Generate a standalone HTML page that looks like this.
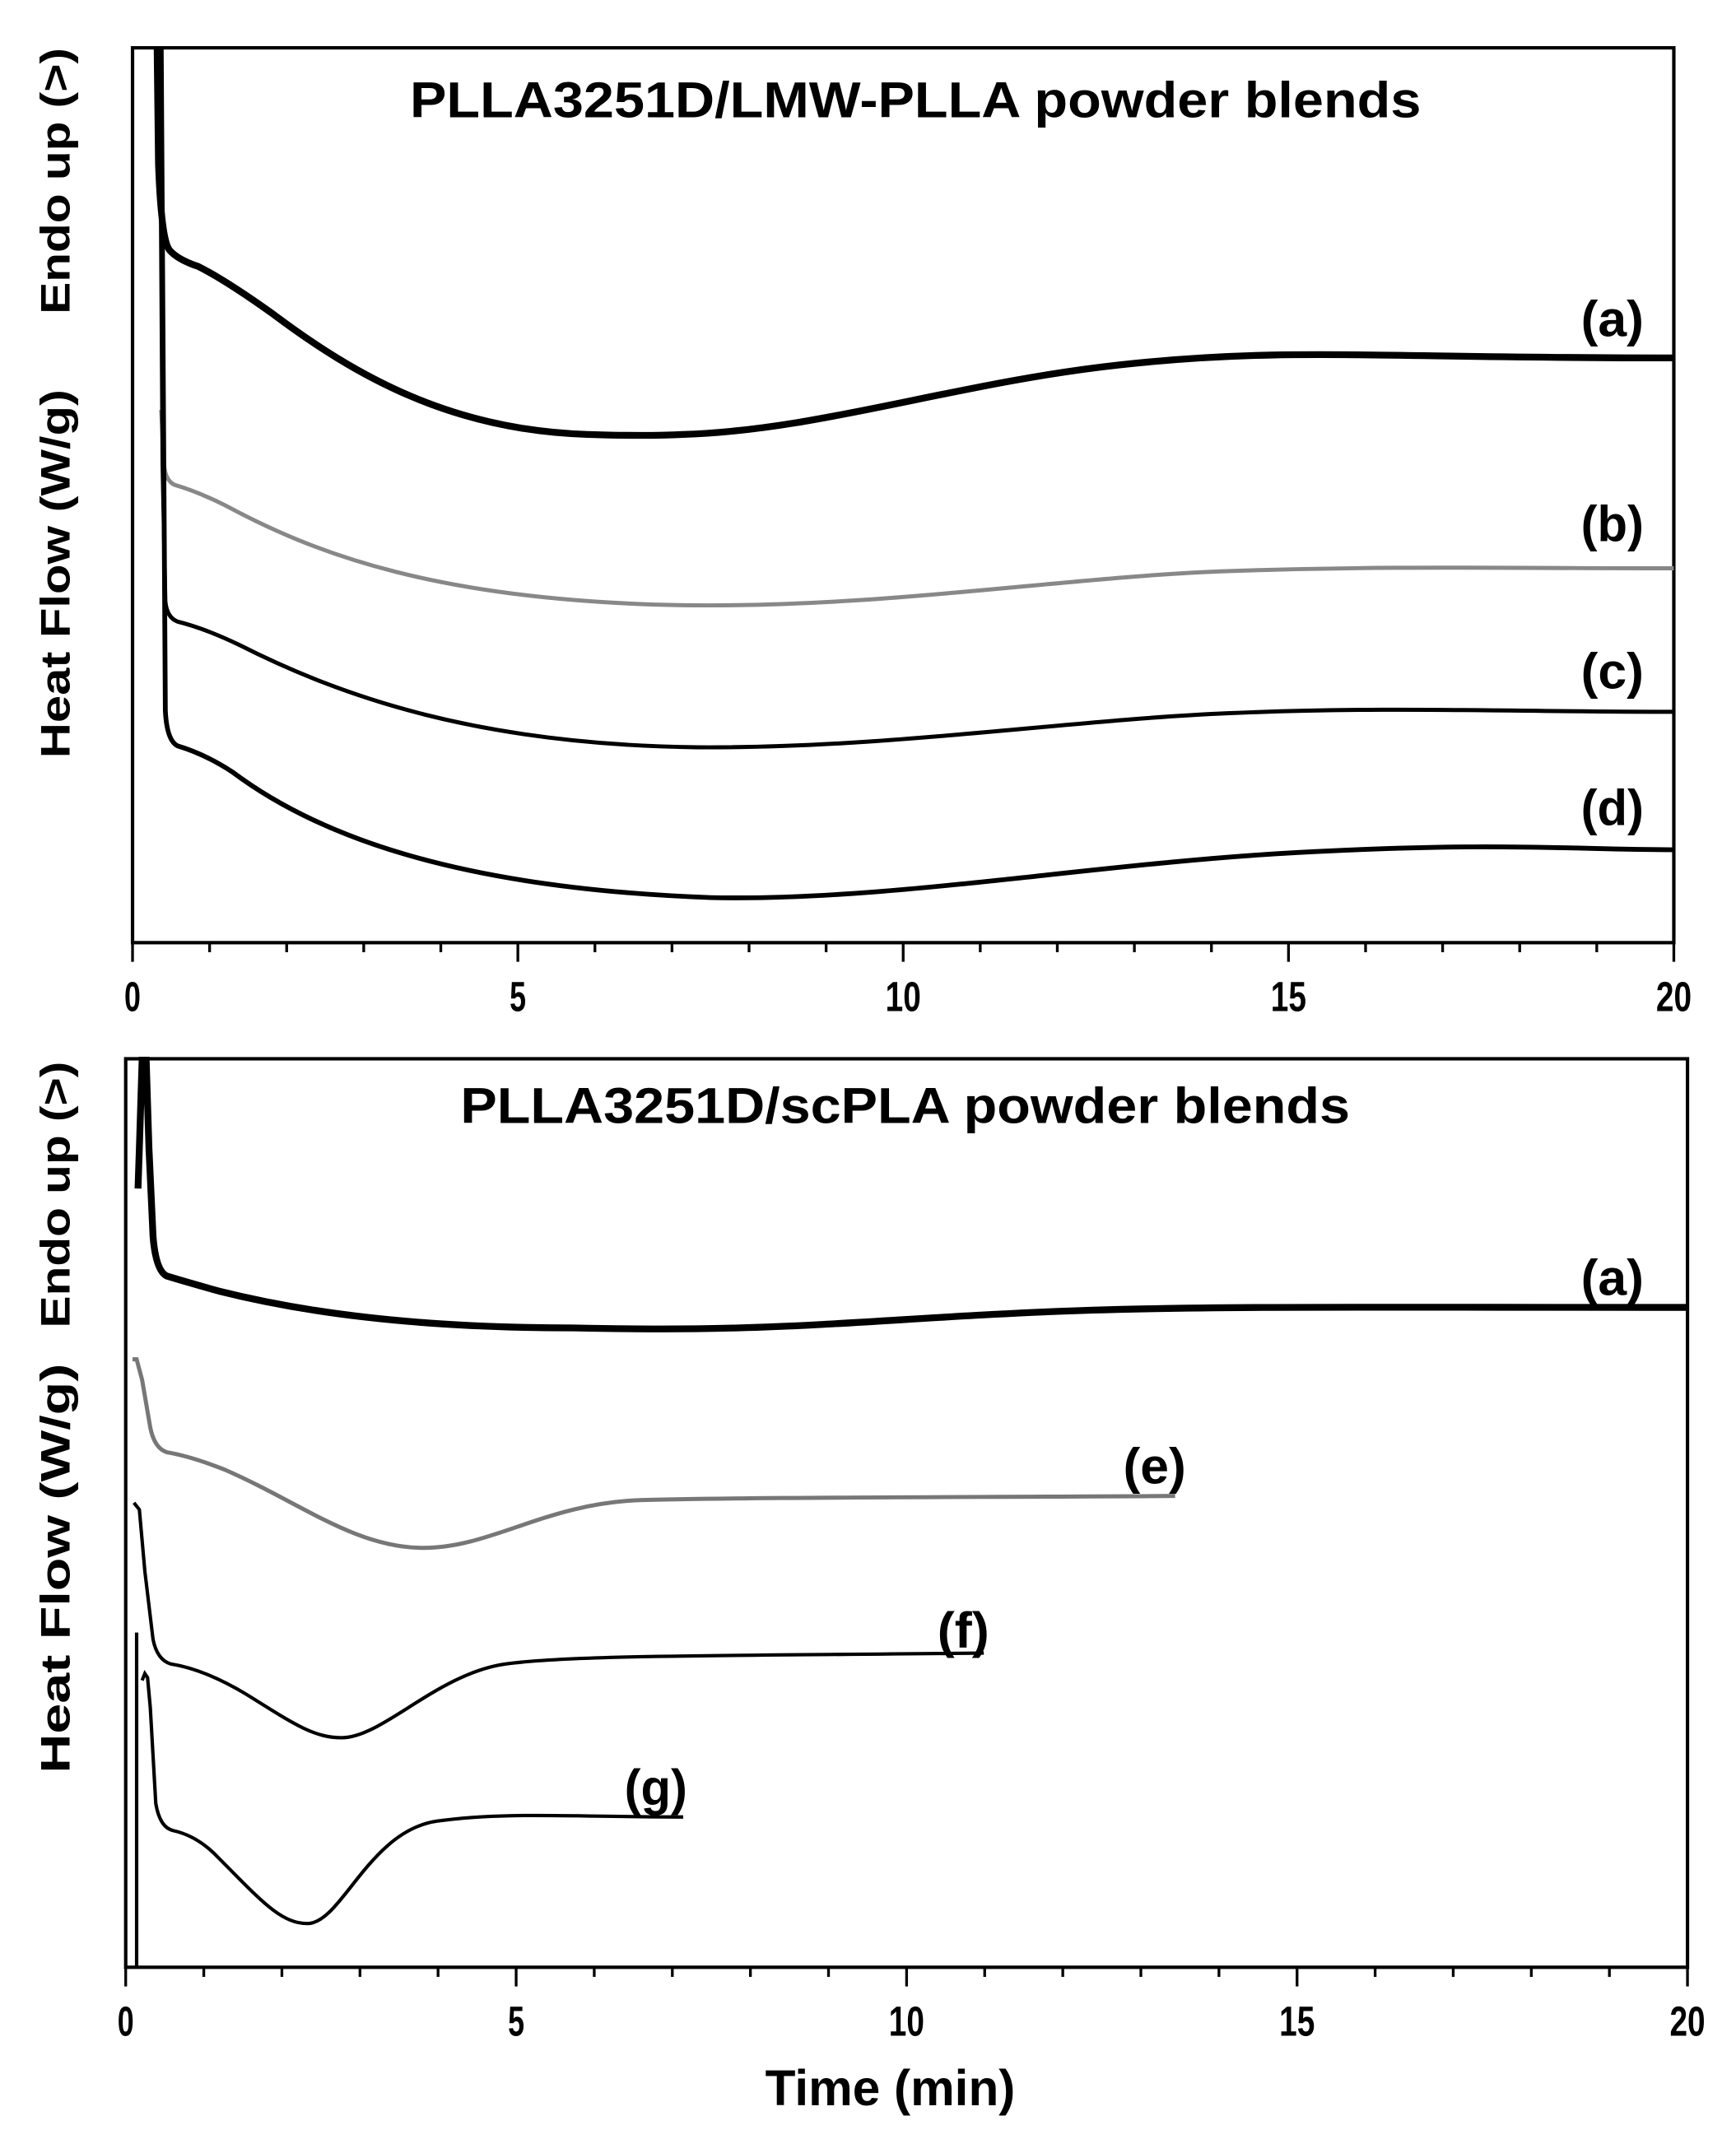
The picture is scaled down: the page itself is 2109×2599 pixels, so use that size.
<!DOCTYPE html>
<html><head><meta charset="utf-8"><style>html,body{margin:0;padding:0;background:#fff}svg{display:block}</style></head>
<body>
<svg width="2109" height="2599" viewBox="0 0 1270.5 1565.7" preserveAspectRatio="none" xmlns="http://www.w3.org/2000/svg" font-family="Liberation Sans, Arial, sans-serif" font-weight="bold">
<rect x="0" y="0" width="1270.5" height="1565.7" fill="#fff"/>
<!-- TOP PANEL -->
<rect x="97" y="35" width="1128" height="655" fill="none" stroke="#000" stroke-width="2.5"/>
<path stroke="#000" stroke-width="2" fill="none" d="M97 690V704M153.4 690V697M209.8 690V697M266.2 690V697M322.6 690V697M379 690V704M435.4 690V697M491.8 690V697M548.2 690V697M604.6 690V697M661 690V704M717.4 690V697M773.8 690V697M830.2 690V697M886.6 690V697M943 690V704M999.4 690V697M1055.8 690V697M1112.2 690V697M1168.6 690V697M1225 690V704"/>
<g font-size="31" text-anchor="middle" transform="translate(0,0)">
<text x="97" y="740" textLength="12" lengthAdjust="spacingAndGlyphs">0</text><text x="379" y="740" textLength="12" lengthAdjust="spacingAndGlyphs">5</text><text x="661" y="740" textLength="26" lengthAdjust="spacingAndGlyphs">10</text><text x="943" y="740" textLength="26" lengthAdjust="spacingAndGlyphs">15</text><text x="1225" y="740" textLength="26" lengthAdjust="spacingAndGlyphs">20</text>
</g>
<text x="300" y="86" font-size="37" textLength="740" lengthAdjust="spacingAndGlyphs">PLLA3251D/LMW-PLLA powder blends</text>
<text transform="translate(51,230) rotate(-90)" font-size="30" textLength="195" lengthAdjust="spacingAndGlyphs">Endo up (&gt;)</text>
<text transform="translate(51,555) rotate(-90)" font-size="30" textLength="270" lengthAdjust="spacingAndGlyphs">Heat Flow (W/g)</text>
<path fill="none" stroke="#000" stroke-width="5" d="M115 35 L116 120 Q118 175 124 183 Q130 190 145 195 Q165 205 200 230 C260 275 330 315 430 318 C460 319 480 319 500 318 C600 315 700 280 820 267 S1000 262 1225 262"/>
<path fill="none" stroke="#888" stroke-width="3" d="M118 300 L120 340 Q121 352 128 355 Q145 360 165 370 C230 405 320 440 500 443 C650 445 780 422 900 418 S1100 416 1225 416"/>
<path fill="none" stroke="#000" stroke-width="3" d="M117 35 L119 340 L121 440 Q122 452 130 455 Q150 460 175 472 C250 510 350 545 510 547 C650 548 780 527 900 522 S1100 521 1225 521"/>
<path fill="none" stroke="#000" stroke-width="3.5" d="M118 35 L121 520 Q122 542 130 546 Q150 552 170 565 C230 610 330 650 520 657 C650 660 800 632 950 624 S1150 622 1225 622"/>
<g font-size="37" text-anchor="middle">
<text x="1180" y="246" textLength="46" lengthAdjust="spacingAndGlyphs">(a)</text><text x="1180" y="396" textLength="46" lengthAdjust="spacingAndGlyphs">(b)</text><text x="1180" y="504" textLength="46" lengthAdjust="spacingAndGlyphs">(c)</text><text x="1180" y="604" textLength="46" lengthAdjust="spacingAndGlyphs">(d)</text>
</g>
<!-- BOTTOM PANEL -->
<rect x="92" y="775" width="1143" height="665" fill="none" stroke="#000" stroke-width="2.5"/>
<path stroke="#000" stroke-width="2" fill="none" d="M92 1440V1454M149.15 1440V1447M206.3 1440V1447M263.45 1440V1447M320.6 1440V1447M377.75 1440V1454M434.9 1440V1447M492.05 1440V1447M549.2 1440V1447M606.35 1440V1447M663.5 1440V1454M720.65 1440V1447M777.8 1440V1447M834.95 1440V1447M892.1 1440V1447M949.25 1440V1454M1006.4 1440V1447M1063.55 1440V1447M1120.7 1440V1447M1177.85 1440V1447M1235 1440V1454"/>
<g font-size="31" text-anchor="middle">
<text x="92" y="1490" textLength="12" lengthAdjust="spacingAndGlyphs">0</text><text x="377.75" y="1490" textLength="12" lengthAdjust="spacingAndGlyphs">5</text><text x="663.5" y="1490" textLength="26" lengthAdjust="spacingAndGlyphs">10</text><text x="949.25" y="1490" textLength="26" lengthAdjust="spacingAndGlyphs">15</text><text x="1235" y="1490" textLength="26" lengthAdjust="spacingAndGlyphs">20</text>
</g>
<text x="560" y="1541" font-size="37" textLength="183" lengthAdjust="spacingAndGlyphs">Time (min)</text>
<text x="337" y="822" font-size="37" textLength="651" lengthAdjust="spacingAndGlyphs">PLLA3251D/scPLA powder blends</text>
<text transform="translate(51,972) rotate(-90)" font-size="30" textLength="195" lengthAdjust="spacingAndGlyphs">Endo up (&gt;)</text>
<text transform="translate(51,1298) rotate(-90)" font-size="30" textLength="300" lengthAdjust="spacingAndGlyphs">Heat Flow (W/g)</text>
<path fill="none" stroke="#000" stroke-width="5" d="M101 870 L102 840 L104 776 L107 776 L109 840 L112 905 Q114 930 122 934 Q135 938 160 945 C220 960 300 972 420 972 C470 973 500 973 540 972 C620 970 700 962 800 959 S1000 957 1235 957"/>
<path fill="none" stroke="#777" stroke-width="3" d="M97 995 L100 995 L104 1010 L110 1045 Q113 1060 122 1063 Q140 1066 165 1076 C220 1100 260 1133 310 1133 C360 1133 400 1100 470 1098 S700 1096 860 1095"/>
<path fill="none" stroke="#000" stroke-width="2.5" d="M98 1100 L102 1105 L106 1150 L112 1200 Q115 1215 125 1218 Q150 1222 180 1240 C215 1262 230 1272 250 1272 C280 1272 320 1225 370 1218 S550 1212 720 1210"/>
<path fill="none" stroke="#000" stroke-width="2.5" d="M100 1440 L100 1195 M104 1230 L106 1225 L108 1228 L110 1250 L114 1320 Q117 1338 127 1340 Q145 1344 160 1360 C190 1390 205 1408 225 1408 C250 1408 270 1340 320 1333 S420 1330 500 1330"/>
<g font-size="37" text-anchor="middle">
<text x="1180" y="948" textLength="46" lengthAdjust="spacingAndGlyphs">(a)</text><text x="845" y="1086" textLength="46" lengthAdjust="spacingAndGlyphs">(e)</text><text x="705" y="1206" textLength="38" lengthAdjust="spacingAndGlyphs">(f)</text><text x="480" y="1321" textLength="46" lengthAdjust="spacingAndGlyphs">(g)</text>
</g>
</svg>
</body></html>
